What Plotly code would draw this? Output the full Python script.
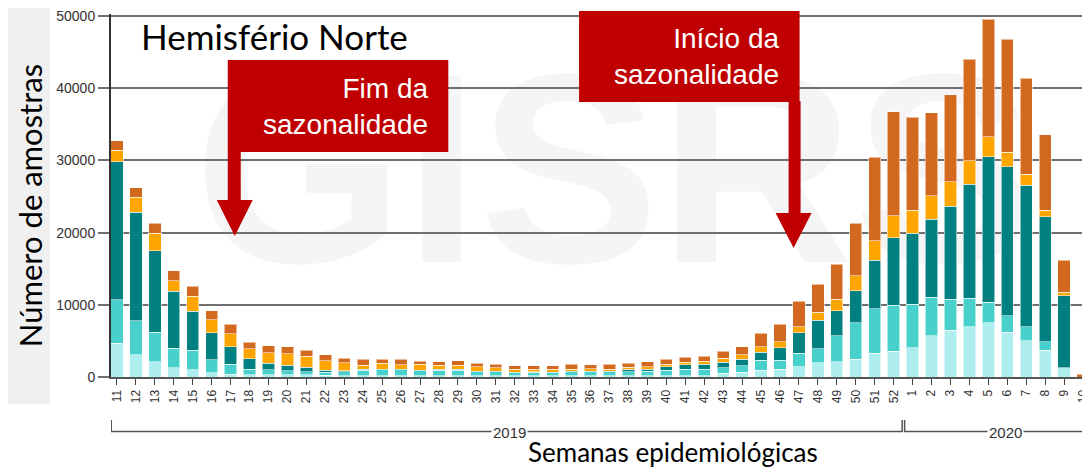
import plotly.graph_objects as go

weeks = [str(w) for w in range(11, 53)] + [str(w) for w in range(1, 11)]

light = [4700, 3100, 2100, 1300, 1000, 600, 400, 300, 300, 300, 300, 250, 200, 200, 200, 200, 200, 200, 200,
         150, 150, 150, 150, 150, 150, 150, 150, 150, 150, 200, 200, 200, 500, 650, 970, 1100, 1430, 1980, 2120,
         2450, 3280, 3600,
         4060, 5680, 6510, 6970, 7520, 6190, 5030, 3740, 1290, 0]
turq = [6000, 4700, 4100, 2700, 2700, 1800, 1400, 800, 700, 550, 450, 400, 550, 750, 800, 800, 700, 750, 750,
        600, 600, 450, 500, 450, 550, 550, 550, 600, 680, 770, 860, 900, 790, 920, 1380, 1250, 1850, 1900, 3560,
        5070, 6140, 6370,
        6050, 5360, 4250, 3930, 2830, 2260, 1940, 1150, 0, 0]
teal = [19100, 15000, 11300, 7900, 5400, 3700, 2400, 1400, 900, 800, 600, 300, 100, 100, 70, 70, 70, 100, 100,
        80, 80, 50, 50, 50, 130, 100, 100, 300, 270, 460, 640, 650, 740, 920, 1110, 1710, 2850, 4010, 3500,
        4430, 6780, 9330,
        9790, 10840, 12920, 15830, 20160, 20680, 19620, 17310, 9970, 0]
orange = [1600, 2100, 2400, 1400, 2100, 1800, 1800, 1400, 1450, 1550, 1550, 1300, 1150, 600, 830, 600, 780, 550,
          600, 600, 470, 450, 400, 450, 270, 330, 300, 300, 330, 320, 330, 420, 600, 600, 740, 830, 830, 1070,
          1580, 2040, 2680, 3000,
          3230, 3190, 3370, 3230, 2770, 1990, 1480, 930, 470, 0]
dorange = [1300, 1300, 1400, 1400, 1400, 1300, 1300, 900, 1000, 1000, 800, 850, 600, 800, 550, 800, 450, 500,
           600, 470, 450, 470, 470, 470, 650, 600, 650, 550, 650, 700, 700, 730, 970, 1110, 1850, 2410, 3540,
           3880, 4850, 7300, 11550, 14450,
           12840, 11540, 12010, 14040, 16260, 15650, 13300, 10390, 4470, 400]

y_ticks = [0, 10000, 20000, 30000, 40000, 50000]
years = ["2019", "2020"]

series = [
    (light, "#AFEEEE"),
    (turq, "#48D1CC"),
    (teal, "#008080"),
    (orange, "#FFA500"),
    (dorange, "#D2691E"),
]

fig = go.Figure()
for vals, col in series:
    fig.add_trace(go.Bar(
        x=weeks, y=vals, marker=dict(color=col, line=dict(color="rgba(255,255,255,0.55)", width=1)),
        showlegend=False, hoverinfo="skip"))

# page has an 8px body margin; figure is 1082x460 so it fills the 1090x468 window
OFF = 8
FW, FH = 1090 - OFF, 468 - OFF
# plot area in page pixels (top a little above the 50000 line so it is drawn)
L, R, T, B = 111, 1090, 14, 377
YMAX = 50000 * (B - T) / (B - 16)
def px(x):
    return (x - L) / (R - L)
def py(y):
    return (B - y) / (B - T)
def path(points):
    return "M" + " L".join(f"{px(x):.5f},{py(y):.5f}" for x, y in points) + " Z"

shapes = []
# left gray strip
shapes.append(dict(type="rect", xref="paper", yref="paper", x0=px(0), x1=px(50), y0=py(404), y1=py(0),
                   fillcolor="#f0f0f0", line=dict(width=0), layer="below"))
# watermark
shapes.append(dict(type="rect", xref="paper", yref="paper", x0=px(140), x1=px(1090), y0=py(285), y1=py(0),
                   fillcolor="rgba(0,0,0,0)", line=dict(width=0), layer="below",
                   label=dict(text="<b>GISRS</b>", font=dict(size=270, color="#f5f5f5", family="Liberation Sans"),
                              textposition="middle center")))
# red boxes + arrows
red = "#C00000"
shapes.append(dict(type="rect", xref="paper", yref="paper", x0=px(228), x1=px(449), y0=py(152), y1=py(60),
                   fillcolor=red, line=dict(width=0)))
shapes.append(dict(type="path", xref="paper", yref="paper",
                   path=path([(228, 151), (241, 151), (241, 200), (253, 200), (235, 236), (217, 200), (228, 200)]),
                   fillcolor=red, line=dict(width=0)))
shapes.append(dict(type="rect", xref="paper", yref="paper", x0=px(580), x1=px(801), y0=py(102), y1=py(11),
                   fillcolor=red, line=dict(width=0)))
shapes.append(dict(type="path", xref="paper", yref="paper",
                   path=path([(790, 101), (802, 101), (802, 213), (813, 213), (795, 248), (777, 213), (790, 213)]),
                   fillcolor=red, line=dict(width=0)))
# year brackets
n2019 = 42
brk_col = "#555555"
yl = py(431.5)
yt = py(420)
shapes.append(dict(type="path", xref="x", yref="paper",
                   path=f"M-0.3,{yt} L-0.3,{yl} L{n2019 - 0.55},{yl} L{n2019 - 0.55},{yt}",
                   line=dict(color=brk_col, width=1.5)))
shapes.append(dict(type="path", xref="x", yref="paper",
                   path=f"M{n2019 - 0.42},{yt} L{n2019 - 0.42},{yl} L53,{yl}",
                   line=dict(color=brk_col, width=1.5)))

annotations = []
yrfont = dict(size=15, color="#333", family="Liberation Sans")
annotations.append(dict(text=years[0], x=(n2019 - 1) / 2 + 0.2, xref="x", y=py(432), yref="paper",
                        xanchor="center", yanchor="middle", showarrow=False, bgcolor="white", borderpad=1,
                        font=yrfont))
annotations.append(dict(text=years[1], x=n2019 + 4.9, xref="x", y=py(432), yref="paper",
                        xanchor="center", yanchor="middle", showarrow=False, bgcolor="white", borderpad=1,
                        font=yrfont))
wf = dict(size=28, color="white", family="Liberation Sans")
for txt, x, y in [("Fim da<br>sazonalidade", 431, 106), ("Início da<br>sazonalidade", 782, 57)]:
    annotations.append(dict(text=txt, x=px(x), y=py(y), xref="paper", yref="paper", xanchor="right",
                            yanchor="middle", align="right", showarrow=False, font=wf))
annotations.append(dict(text="Hemisfério Norte", x=px(139), y=py(36), xref="paper", yref="paper",
                        xanchor="left", yanchor="middle", showarrow=False,
                        font=dict(size=35, color="black", family="Lato")))
annotations.append(dict(text="Número de amostras", x=px(30), y=py(206), xref="paper", yref="paper",
                        xanchor="center", yanchor="middle",
                        textangle=-90, showarrow=False, font=dict(size=31, color="black", family="Lato")))
annotations.append(dict(text="Semanas epidemiológicas", x=px(674), y=py(452), xref="paper", yref="paper",
                        xanchor="center", yanchor="middle",
                        showarrow=False, font=dict(size=26, color="black", family="Lato")))

fig.update_layout(
    width=FW, height=FH,
    margin=dict(l=L - OFF, r=1090 - R, t=T - OFF, b=468 - B),
    barmode="stack", bargap=0.35,
    paper_bgcolor="white", plot_bgcolor="rgba(0,0,0,0)",
    shapes=shapes, annotations=annotations,
    xaxis=dict(type="category", range=[-0.315, 51.26], tickangle=-90,
               tickfont=dict(size=12, color="#333", family="Liberation Sans"),
               ticks="outside", ticklen=6, tickcolor="#444", tickwidth=1,
               showline=True, linecolor="#555", linewidth=2, showgrid=False),
    yaxis=dict(range=[0, YMAX], tickvals=y_ticks, ticktext=[str(v) for v in y_ticks],
               tickfont=dict(size=14, color="#333", family="Liberation Sans"),
               ticklabeloverflow="allow",
               ticks="outside", ticklen=11, tickcolor="#707070", tickwidth=2,
               showgrid=True, gridcolor="#707070", gridwidth=2,
               showline=True, linecolor="#333", linewidth=2, zeroline=False),
)

fig.write_html("out.html")
